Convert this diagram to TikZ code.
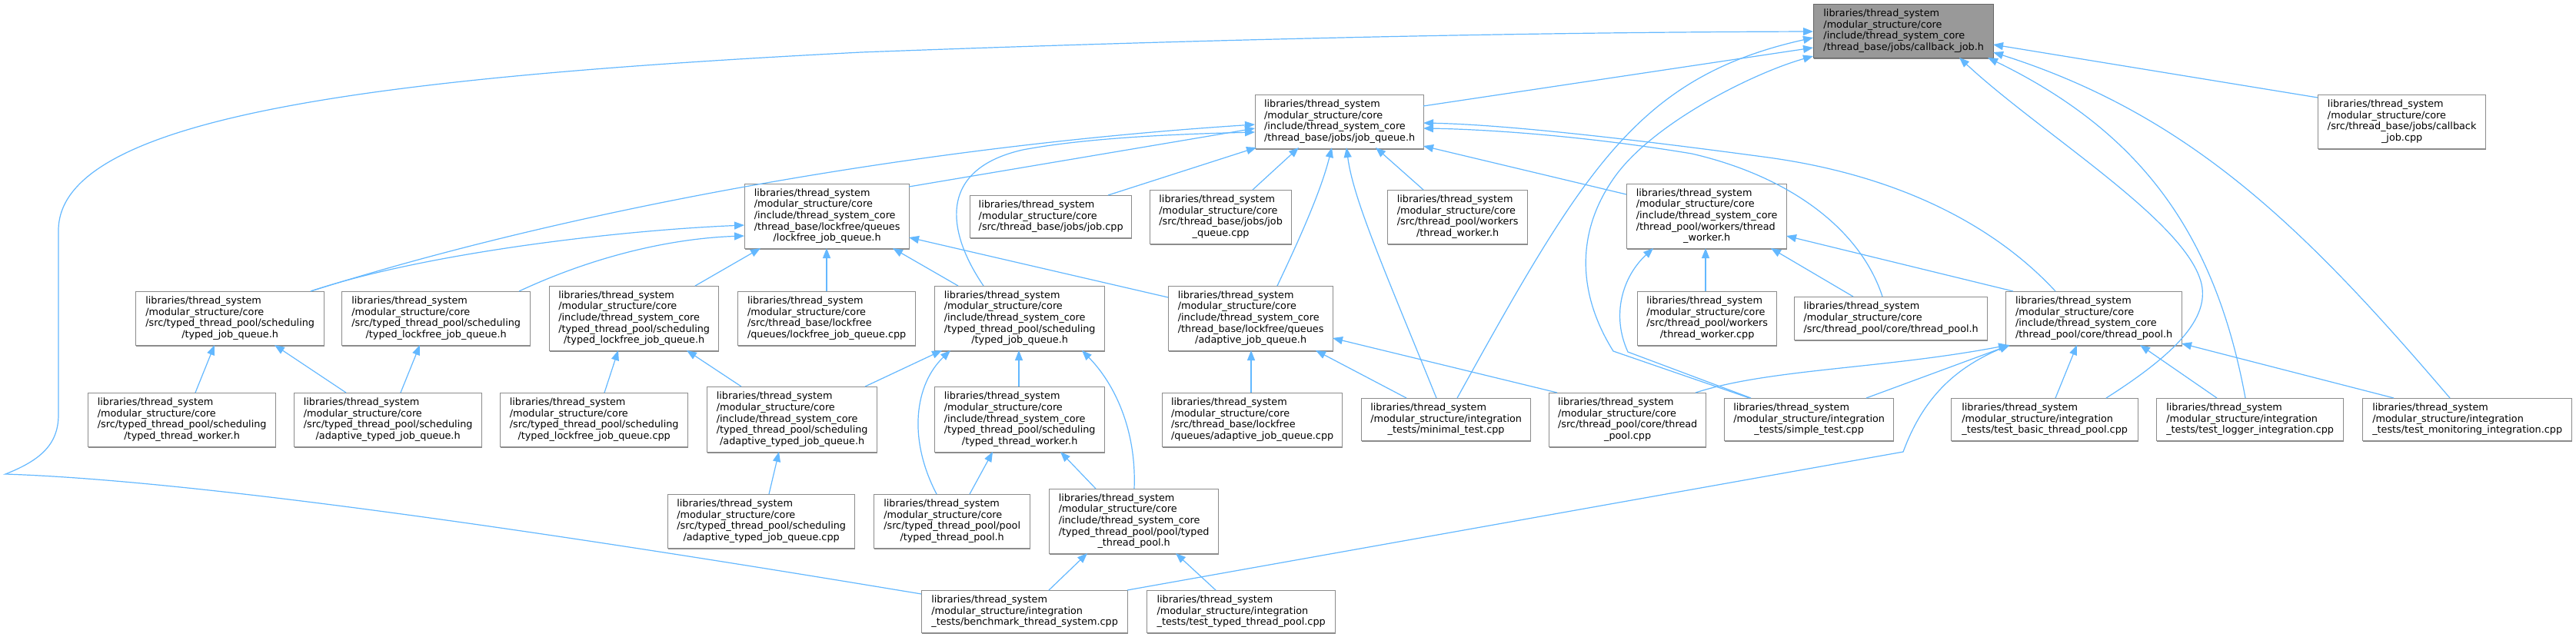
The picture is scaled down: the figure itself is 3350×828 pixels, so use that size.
\documentclass[tikz,border=0pt]{standalone}
\usepackage{fontspec}
\setmainfont{DejaVu Sans}
\usetikzlibrary{arrows.meta,shadows}
\definecolor{bord}{HTML}{8C8C8C}
\definecolor{edgec}{HTML}{63B8FF}
\definecolor{hifill}{HTML}{999999}
\definecolor{hibord}{HTML}{666666}
\newcommand{\lab}[2]{\begin{tabular}{@{}l@{}}#1\\\multicolumn{1}{@{}c@{}}{#2}\end{tabular}}
\newcommand{\LT}{libraries/thread\_system\\/modular\_structure/core}
\newcommand{\LI}{libraries/thread\_system\\/modular\_structure/integration}
\newcommand{\nb}[6]{\node[box,minimum width=#4pt,minimum height=#5pt] (#1) at (#2,-#3) {#6};}
\tikzset{
  box/.style={draw=bord, line width=1.3pt, fill=white, anchor=north west, inner sep=1pt,
    drop shadow={shadow xshift=0.6pt,shadow yshift=-1.3pt,fill=bord,opacity=1},
    font=\fontsize{12.8}{14.6}\selectfont},
  incl/.style={draw=edgec, line width=1.2pt, -{Triangle[length=13pt,width=10pt]}}
}
\begin{document}
\begin{tikzpicture}[x=1pt,y=1pt]
\fill[white] (0,0) rectangle (3350,-828);
\useasboundingbox (0,0) rectangle (3350,-828);
% nodes
\node[box,fill=hifill,draw=hibord,minimum width=234pt,minimum height=70pt] (cbh) at (2358,-5) {\lab{\LT\\/include/thread\_system\_core}{/thread\_base/jobs/callback\_job.h}};
\nb{cbcpp}{3014}{123}{218}{70}{\lab{\LT\\/src/thread\_base/jobs/callback}{\_job.cpp}}
\nb{jqh}{1632}{123}{219}{70}{\lab{\LT\\/include/thread\_system\_core}{/thread\_base/jobs/job\_queue.h}}
\nb{lfh}{968}{239}{214}{84}{\lab{\LT\\/include/thread\_system\_core\\/thread\_base/lockfree/queues}{/lockfree\_job\_queue.h}}
\nb{jobcpp}{1261}{254}{210}{55}{\lab{\LT}{/src/thread\_base/jobs/job.cpp}}
\nb{jqcpp}{1495}{247}{184}{70}{\lab{\LT\\/src/thread\_base/jobs/job}{\_queue.cpp}}
\nb{twsrc}{1804}{247}{182}{70}{\lab{\LT\\/src/thread\_pool/workers}{/thread\_worker.h}}
\nb{twh}{2115}{239}{208}{84}{\lab{\LT\\/include/thread\_system\_core\\/thread\_pool/workers/thread}{\_worker.h}}
\nb{tjqsrc}{176}{379}{245}{70}{\lab{\LT\\/src/typed\_thread\_pool/scheduling}{/typed\_job\_queue.h}}
\nb{tlfsrc}{444}{379}{245}{70}{\lab{\LT\\/src/typed\_thread\_pool/scheduling}{/typed\_lockfree\_job\_queue.h}}
\nb{tlfh}{714}{372}{220}{84}{\lab{\LT\\/include/thread\_system\_core\\/typed\_thread\_pool/scheduling}{/typed\_lockfree\_job\_queue.h}}
\nb{lfcpp}{959}{379}{231}{70}{\lab{\LT\\/src/thread\_base/lockfree}{/queues/lockfree\_job\_queue.cpp}}
\nb{tjqh}{1215}{372}{221}{84}{\lab{\LT\\/include/thread\_system\_core\\/typed\_thread\_pool/scheduling}{/typed\_job\_queue.h}}
\nb{ajqh}{1519}{372}{214}{84}{\lab{\LT\\/include/thread\_system\_core\\/thread\_base/lockfree/queues}{/adaptive\_job\_queue.h}}
\nb{twcpp}{2129}{379}{181}{70}{\lab{\LT\\/src/thread\_pool/workers}{/thread\_worker.cpp}}
\nb{tpsrc}{2333}{386}{251}{56}{\lab{\LT}{/src/thread\_pool/core/thread\_pool.h}}
\nb{tph}{2608}{379}{229}{70}{\lab{\LT\\/include/thread\_system\_core}{/thread\_pool/core/thread\_pool.h}}
\nb{ttwsrc}{114}{511}{244}{70}{\lab{\LT\\/src/typed\_thread\_pool/scheduling}{/typed\_thread\_worker.h}}
\nb{atjqsrc}{382}{511}{244}{70}{\lab{\LT\\/src/typed\_thread\_pool/scheduling}{/adaptive\_typed\_job\_queue.h}}
\nb{tlfcpp}{650}{511}{244}{70}{\lab{\LT\\/src/typed\_thread\_pool/scheduling}{/typed\_lockfree\_job\_queue.cpp}}
\nb{atjqh}{919}{503}{221}{85}{\lab{\LT\\/include/thread\_system\_core\\/typed\_thread\_pool/scheduling}{/adaptive\_typed\_job\_queue.h}}
\nb{ttwh}{1215}{503}{221}{85}{\lab{\LT\\/include/thread\_system\_core\\/typed\_thread\_pool/scheduling}{/typed\_thread\_worker.h}}
\nb{ajqcpp}{1511}{511}{234}{70}{\lab{\LT\\/src/thread\_base/lockfree}{/queues/adaptive\_job\_queue.cpp}}
\nb{mincpp}{1770}{518}{220}{55}{\lab{\LI}{\_tests/minimal\_test.cpp}}
\nb{tpcpp}{2014}{511}{204}{70}{\lab{\LT\\/src/thread\_pool/core/thread}{\_pool.cpp}}
\nb{simple}{2242}{518}{220}{55}{\lab{\LI}{\_tests/simple\_test.cpp}}
\nb{basic}{2537}{518}{243}{55}{\lab{\LI}{\_tests/test\_basic\_thread\_pool.cpp}}
\nb{logger}{2804}{518}{243}{55}{\lab{\LI}{\_tests/test\_logger\_integration.cpp}}
\nb{monitor}{3072}{518}{272}{55}{\lab{\LI}{\_tests/test\_monitoring\_integration.cpp}}
\nb{atjqcpp}{868}{643}{243}{70}{\lab{\LT\\/src/typed\_thread\_pool/scheduling}{/adaptive\_typed\_job\_queue.cpp}}
\nb{ttpsrc}{1136}{643}{203}{70}{\lab{\LT\\/src/typed\_thread\_pool/pool}{/typed\_thread\_pool.h}}
\nb{ttph}{1364}{636}{220}{84}{\lab{\LT\\/include/thread\_system\_core\\/typed\_thread\_pool/pool/typed}{\_thread\_pool.h}}
\nb{bench}{1198}{768}{268}{55}{\lab{\LI}{\_tests/benchmark\_thread\_system.cpp}}
\nb{ttpcpp}{1491}{768}{245}{55}{\lab{\LI}{\_tests/test\_typed\_thread\_pool.cpp}}
% edges (child -> included header)
\draw[incl] ([shift={(219,-15)}]jqh.north west) -- ([shift={(0,-57)}]cbh.north west);
\draw[incl] ([shift={(0,-4)}]cbcpp.north west) -- ([shift={(234,-53)}]cbh.north west);
\draw[incl] ([shift={(0,-5)}]bench.north west) .. controls (700,-690) and (250,-625) .. (7,-617) .. controls (50,-600) and (76,-580) .. (76,-540) -- (76,-300) .. controls (76,-150) and (500,-100) .. (1120,-68) .. controls (1600,-50) and (2000,-42) .. ([shift={(0,-36)}]cbh.north west);
\draw[incl] ([shift={(125,0)}]mincpp.north west) .. controls (2060,-220) and (2130,-100) .. ([shift={(0,-44)}]cbh.north west);
\draw[incl] ([shift={(33,0)}]simple.north west) -- (2098,-457) .. controls (2050,-380) and (2050,-300) .. (2100,-230) .. controls (2150,-160) and (2280,-95) .. ([shift={(0,-68)}]cbh.north west);
\draw[incl] ([shift={(35,0)}]simple.north west) -- (2117,-458) .. controls (2095,-410) and (2110,-360) .. ([shift={(35,-84)}]twh.north west);
\draw[incl] ([shift={(202,0)}]basic.north west) .. controls (2830,-460) and (2880,-410) .. (2860,-360) .. controls (2830,-280) and (2650,-170) .. ([shift={(190,-70)}]cbh.north west);
\draw[incl] ([shift={(116,0)}]logger.north west) .. controls (2880,-300) and (2780,-170) .. ([shift={(227,-70)}]cbh.north west);
\draw[incl] ([shift={(114,0)}]monitor.north west) .. controls (3000,-300) and (2850,-150) .. ([shift={(234,-63)}]cbh.north west);
\draw[incl] ([shift={(228,0)}]tjqsrc.north west) .. controls (750,-270) and (1200,-190) .. ([shift={(0,-39)}]jqh.north west);
\draw[incl] ([shift={(214,-4)}]lfh.north west) -- ([shift={(0,-44)}]jqh.north west);
\draw[incl] ([shift={(64,0)}]tjqh.north west) .. controls (1230,-300) and (1220,-220) .. (1330,-195) .. controls (1420,-178) and (1550,-174) .. ([shift={(0,-49)}]jqh.north west);
\draw[incl] ([shift={(180,0)}]jobcpp.north west) -- ([shift={(2,-69)}]jqh.north west);
\draw[incl] ([shift={(134,0)}]jqcpp.north west) -- ([shift={(57,-69)}]jqh.north west);
\draw[incl] ([shift={(142,0)}]ajqh.north west) .. controls (1700,-290) and (1720,-240) .. ([shift={(100,-69)}]jqh.north west);
\draw[incl] ([shift={(98,0)}]mincpp.north west) .. controls (1800,-350) and (1760,-260) .. ([shift={(119,-69)}]jqh.north west);
\draw[incl] ([shift={(47,0)}]twsrc.north west) -- ([shift={(157,-69)}]jqh.north west);
\draw[incl] ([shift={(0,-14)}]twh.north west) -- ([shift={(219,-67)}]jqh.north west);
\draw[incl] ([shift={(115,0)}]tpsrc.north west) .. controls (2420,-300) and (2330,-230) .. (2200,-200) .. controls (2050,-175) and (1920,-168) .. ([shift={(219,-44)}]jqh.north west);
\draw[incl] ([shift={(65,0)}]tph.north west) .. controls (2600,-300) and (2480,-230) .. (2300,-205) .. controls (2100,-178) and (1950,-162) .. ([shift={(219,-37)}]jqh.north west);
\draw[incl] ([shift={(10,0)}]tph.north west) -- ([shift={(208,-68)}]twh.north west);
\draw[incl] ([shift={(77,0)}]tpsrc.north west) -- ([shift={(188,-84)}]twh.north west);
\draw[incl] ([shift={(89,0)}]twcpp.north west) -- ([shift={(103,-84)}]twh.north west);
\draw[incl] ([shift={(185,0)}]simple.north west) -- ([shift={(6,-70)}]tph.north west);
\draw[incl] ([shift={(191,0)}]tpcpp.north west) .. controls (2300,-480) and (2450,-480) .. ([shift={(4,-70)}]tph.north west);
\draw[incl] ([shift={(268,0)}]bench.north west) -- (2475,-588) .. controls (2500,-520) and (2540,-480) .. ([shift={(5,-70)}]tph.north west);
\draw[incl] ([shift={(136,0)}]basic.north west) -- ([shift={(93,-70)}]tph.north west);
\draw[incl] ([shift={(79,0)}]logger.north west) -- ([shift={(175,-70)}]tph.north west);
\draw[incl] ([shift={(41,0)}]monitor.north west) -- ([shift={(229,-68)}]tph.north west);
\draw[incl] ([shift={(11,0)}]tpcpp.north west) -- ([shift={(214,-68)}]ajqh.north west);
\draw[incl] ([shift={(116,0)}]ajqcpp.north west) -- ([shift={(108,-84)}]ajqh.north west);
\draw[incl] ([shift={(59,0)}]mincpp.north west) -- ([shift={(192,-84)}]ajqh.north west);
\draw[incl] ([shift={(0,-15)}]ajqh.north west) -- ([shift={(214,-70)}]lfh.north west);
\draw[incl] ([shift={(31,0)}]tjqh.north west) -- ([shift={(193,-84)}]lfh.north west);
\draw[incl] ([shift={(116,0)}]lfcpp.north west) -- ([shift={(107,-84)}]lfh.north west);
\draw[incl] ([shift={(190,0)}]tlfh.north west) -- ([shift={(21,-84)}]lfh.north west);
\draw[incl] ([shift={(231,0)}]tlfsrc.north west) .. controls (780,-330) and (880,-310) .. ([shift={(0,-68)}]lfh.north west);
\draw[incl] ([shift={(228,0)}]tjqsrc.north west) .. controls (550,-330) and (800,-300) .. ([shift={(0,-54)}]lfh.north west);
\draw[incl] ([shift={(140,0)}]ttwsrc.north west) -- ([shift={(103,-70)}]tjqsrc.north west);
\draw[incl] ([shift={(68,0)}]atjqsrc.north west) -- ([shift={(181,-70)}]tjqsrc.north west);
\draw[incl] ([shift={(139,0)}]atjqsrc.north west) -- ([shift={(102,-70)}]tlfsrc.north west);
\draw[incl] ([shift={(136,0)}]tlfcpp.north west) -- ([shift={(90,-84)}]tlfh.north west);
\draw[incl] ([shift={(45,0)}]atjqh.north west) -- ([shift={(179,-84)}]tlfh.north west);
\draw[incl] ([shift={(132,0)}]atjqcpp.north west) -- ([shift={(94,-85)}]atjqh.north west);
\draw[incl] ([shift={(206,0)}]atjqh.north west) -- ([shift={(10,-84)}]tjqh.north west);
\draw[incl] ([shift={(82,0)}]ttpsrc.north west) .. controls (1180,-570) and (1190,-500) .. ([shift={(21,-84)}]tjqh.north west);
\draw[incl] ([shift={(110,0)}]ttwh.north west) -- ([shift={(110,-84)}]tjqh.north west);
\draw[incl] ([shift={(111,0)}]ttph.north west) .. controls (1478,-560) and (1450,-500) .. ([shift={(192,-84)}]tjqh.north west);
\draw[incl] ([shift={(125,0)}]ttpsrc.north west) -- ([shift={(76,-85)}]ttwh.north west);
\draw[incl] ([shift={(61,0)}]ttph.north west) -- ([shift={(164,-85)}]ttwh.north west);
\draw[incl] ([shift={(166,0)}]bench.north west) -- ([shift={(50,-84)}]ttph.north west);
\draw[incl] ([shift={(90,0)}]ttpcpp.north west) -- ([shift={(165,-84)}]ttph.north west);
\end{tikzpicture}
\end{document}
